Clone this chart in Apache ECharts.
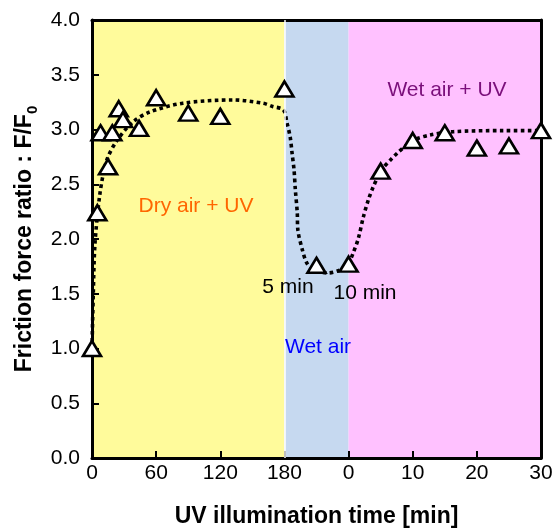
<!DOCTYPE html>
<html>
<head>
<meta charset="utf-8">
<script src="https://cdn.jsdelivr.net/npm/echarts@6/dist/echarts.min.js"></script>
<style>html,body{margin:0;padding:0;background:#fff;}#c{width:554px;height:528px;}</style>
</head>
<body>
<div id="c"></div>
<script>
// ---- data ----
// phase 1: dry air + UV, time in minutes (0..180)
var dryT = [0, 5, 8, 15, 19, 25, 29, 44, 60, 90, 120, 180];
var dryY = [1.00, 2.24, 2.97, 2.66, 2.97, 3.19, 3.09, 3.01, 3.29, 3.15, 3.12, 3.37];
// phase 2: wet air, time in minutes (0..10)
var wetT = [5, 10];
var wetY = [1.76, 1.77];
// phase 3: wet air + UV, time in minutes (0..30)
var uvT = [5, 10, 15, 20, 25, 30];
var uvY = [2.62, 2.90, 2.97, 2.83, 2.85, 2.99];

// dotted guide curve
var fitDryT = [0, 1.2, 2.8, 7.5, 13.8, 23.4, 38.4, 54, 85, 132, 160, 169, 179];
var fitDryY = [1.00, 1.50, 1.96, 2.42, 2.72, 2.90, 3.07, 3.16, 3.24, 3.27, 3.24, 3.21, 3.18];
var fitWetT = [0.4, 0.9, 1.2, 1.5, 1.7, 2.0, 2.1, 2.8, 3.5, 4.5, 6.8, 8.4, 9.5];
var fitWetY = [3.06, 2.93, 2.78, 2.63, 2.45, 2.24, 2.08, 1.90, 1.78, 1.72, 1.69, 1.71, 1.75];
var fitUvT = [0.25, 0.7, 1.5, 2.3, 3.1, 3.8, 4.6, 5.4, 6.5, 7.7, 9.1, 10.4, 12.7, 16.3, 24.1, 30];
var fitUvY = [1.81, 1.87, 2.00, 2.20, 2.36, 2.47, 2.57, 2.65, 2.72, 2.79, 2.86, 2.91, 2.95, 2.98, 2.99, 2.99];

var xTickLabels = ['0', '60', '120', '180', '0', '10', '20', '30'];

// ---- axis mapping: piecewise time axis (each phase mapped onto its span) ----
function dryU(t) { return t / 60; }        // 0..3
function wetU(t) { return 3 + t / 10; }    // 3..4
function uvU(t) { return 4 + t / 10; }     // 4..7
function pairs(ts, ys, f) { return ts.map(function (t, i) { return [f(t), ys[i]]; }); }

var points = pairs(dryT, dryY, dryU).concat(pairs(wetT, wetY, wetU), pairs(uvT, uvY, uvU));
var curve = pairs(fitDryT, fitDryY, dryU).concat(pairs(fitWetT, fitWetY, wetU), pairs(fitUvT, fitUvY, uvU));

var FONT = "'Liberation Sans', Arial, Helvetica, sans-serif";
var chart = echarts.init(document.getElementById('c'), null, {renderer: 'canvas'});

function txt(text, x, y, color) {
  return {
    type: 'text', x: x, y: y, z: 10, silent: true,
    style: {text: text, fill: color, font: '21px ' + FONT,
      align: 'center', verticalAlign: 'middle', textAlign: 'center', textVerticalAlign: 'middle'}
  };
}

chart.setOption({
  animation: false,
  backgroundColor: '#fff',
  grid: {left: 92, right: 13, top: 20, bottom: 70, containLabel: false, outerBoundsMode: 'none'},
  xAxis: [{
    type: 'value', min: 0, max: 7, interval: 1, position: 'bottom', z: 3,
    axisLine: {show: true, onZero: false, lineStyle: {color: '#000', width: 3}},
    axisTick: {show: true, inside: true, length: 7, lineStyle: {color: '#000', width: 2}},
    axisLabel: {color: '#000', fontSize: 21, fontFamily: FONT, margin: 5,
      formatter: function (v) { return xTickLabels[Math.round(v)]; }},
    splitLine: {show: false},
    name: 'UV illumination time [min]', nameLocation: 'middle', nameGap: 47,
    nameTextStyle: {color: '#000', fontSize: 23, fontWeight: 'bold', fontFamily: FONT}
  }, {
    type: 'value', min: 0, max: 7, position: 'top', z: 3,
    axisLine: {show: true, onZero: false, lineStyle: {color: '#000', width: 3}},
    axisTick: {show: false}, axisLabel: {show: false}, splitLine: {show: false}
  }],
  yAxis: [{
    type: 'value', min: 0, max: 4, interval: 0.5, position: 'left', z: 3,
    axisLine: {show: true, onZero: false, lineStyle: {color: '#000', width: 3}},
    axisTick: {show: true, inside: true, length: 7, lineStyle: {color: '#000', width: 2}},
    axisLabel: {color: '#000', fontSize: 21, fontFamily: FONT, margin: 12,
      formatter: function (v) { return v.toFixed(1); }},
    splitLine: {show: false},
    name: '{b|Friction force ratio : F/F}{s|0}', nameLocation: 'middle', nameGap: 52, nameRotate: 90,
    nameTextStyle: {
      color: '#000', fontFamily: FONT,
      rich: {
        b: {fontSize: 23, fontWeight: 'bold', fontFamily: FONT, color: '#000', lineHeight: 30},
        s: {fontSize: 15, fontWeight: 'bold', fontFamily: FONT, color: '#000', verticalAlign: 'bottom'}
      }
    }
  }, {
    type: 'value', min: 0, max: 4, position: 'right', z: 3,
    axisLine: {show: true, onZero: false, lineStyle: {color: '#000', width: 3}},
    axisTick: {show: false}, axisLabel: {show: false}, splitLine: {show: false}
  }],
  series: [{
    type: 'line', data: [], z: 1, silent: true,
    markArea: {
      silent: true,
      data: [
        [{xAxis: 0, itemStyle: {color: '#FFFB9B'}}, {xAxis: 3}],
        [{xAxis: 3, itemStyle: {color: '#C6D9F0'}}, {xAxis: 4}],
        [{xAxis: 4, itemStyle: {color: '#FFC1FF'}}, {xAxis: 7}]
      ]
    },
    markLine: {
      silent: true, symbol: 'none', label: {show: false},
      lineStyle: {color: '#ffffff', width: 1.5, type: 'solid'},
      data: [{xAxis: 3}]
    }
  }, {
    type: 'line', data: curve, z: 4, smooth: 0.3, showSymbol: false, silent: true,
    lineStyle: {color: '#000', width: 3.6, type: [3.6, 3.4], cap: 'butt', opacity: 1}
  }, {
    type: 'scatter', data: points, z: 5, symbol: 'triangle', symbolSize: [18, 15],
    itemStyle: {color: '#fff', borderColor: '#000', borderWidth: 2.6, opacity: 1}
  }],
  graphic: [
    txt('Dry air + UV', 196, 206, '#FF6600'),
    txt('Wet air + UV', 447, 90, '#7B0F7B'),
    txt('Wet air', 318, 347, '#0000FF'),
    txt('5 min', 288, 287, '#000'),
    txt('10 min', 365, 293, '#000')
  ]
});
</script>
</body>
</html>
